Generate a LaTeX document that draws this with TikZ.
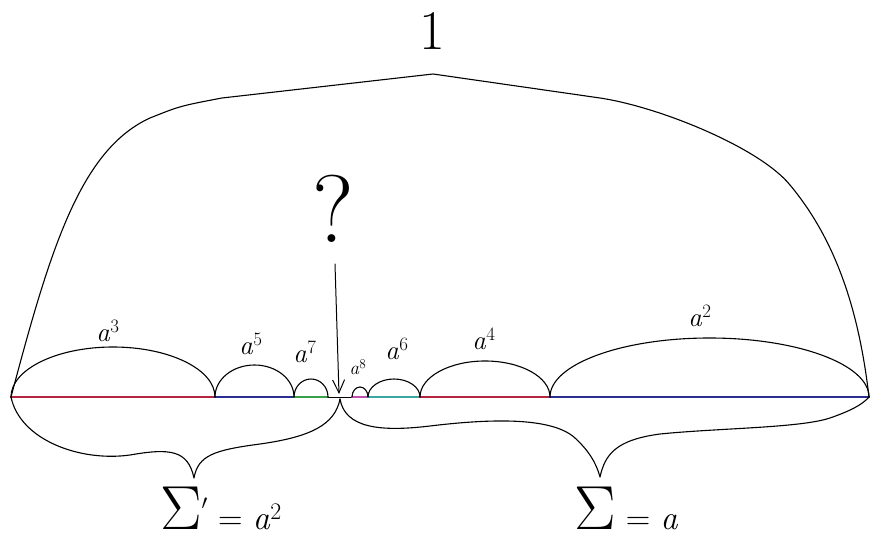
\documentclass[tikz,border=0pt]{standalone}
\usepackage{fontspec}
\usetikzlibrary{arrows.meta}
\definecolor{cred}{HTML}{B4253F}
\definecolor{cblue}{HTML}{2B2E91}
\definecolor{cgreen}{HTML}{3AA04A}
\definecolor{cmag}{HTML}{C050B0}
\definecolor{cteal}{HTML}{3AA8A0}
\newcommand{\bigsig}{\scalebox{2.5}{\fontsize{24.88}{26}\selectfont$\Sigma$}}
\begin{document}
\begin{tikzpicture}[x=1pt,y=-1pt,line cap=round,line join=round,
  seg/.style={line width=2.4pt},
  arcl/.style={line width=1.1pt,black},
  brace/.style={line width=1.1pt,black},
  lbl/.style={inner sep=0pt,font=\fontsize{27}{29}\selectfont},
  slbl/.style={inner sep=0pt,font=\fontsize{19}{21}\selectfont}]
\useasboundingbox (0,0) rectangle (871,540);
% baseline points
\coordinate (p0) at (11,397);
\coordinate (p1) at (215,397);
\coordinate (p2) at (294,397);
\coordinate (p3) at (328,397);
\coordinate (p4) at (352,397);
\coordinate (p5) at (368,397);
\coordinate (p6) at (420,397);
\coordinate (p7) at (550,397);
\coordinate (p8) at (869,397);
% coloured segments
\draw[seg,cred] (p0) -- (p1);
\draw[seg,cblue] (p1) -- (p2);
\draw[seg,cgreen] (p2) -- (p3);
\draw[line width=1pt,black] (p3) -- (p4);
\draw[seg,cmag] (p4) -- (p5);
\draw[seg,cteal] (p5) -- (p6);
\draw[seg,cred] (p6) -- (p7);
\draw[seg,cblue] (p7) -- (p8);
% arcs
\draw[arcl] (p0) arc[start angle=180,end angle=360,x radius=102,y radius=50];
\draw[arcl] (p1) arc[start angle=180,end angle=360,x radius=39.5,y radius=32];
\draw[arcl] (p2) arc[start angle=180,end angle=360,x radius=17,y radius=18];
\draw[arcl] (p4) arc[start angle=180,end angle=360,x radius=8,y radius=10];
\draw[arcl] (p5) arc[start angle=180,end angle=360,x radius=26,y radius=18];
\draw[arcl] (p6) arc[start angle=180,end angle=360,x radius=65,y radius=36];
\draw[arcl] (p7) arc[start angle=180,end angle=360,x radius=159.5,y radius=59];
% arc labels
\node[lbl] (l3) at (108,331) {\textit{a}\textsuperscript{3}};
\node[lbl] (l5) at (251,344) {\textit{a}\textsuperscript{5}};
\node[lbl] (l7) at (305,352) {\textit{a}\textsuperscript{7}};
\node[slbl] (l8) at (358,367) {\textit{a}\textsuperscript{8}};
\node[lbl] (l6) at (397,349) {\textit{a}\textsuperscript{6}};
\node[lbl] (l4) at (484,339) {\textit{a}\textsuperscript{4}};
\node[lbl] (l2) at (700,316) {\textit{a}\textsuperscript{2}};
% big arc "1"
\draw[arcl] (p0) .. controls (50,250) and (80,150) .. (150,118)
  .. controls (180,106) .. (222,98) -- (433,74) -- (600,98)
  .. controls (660,107) and (760,148) .. (790,185)
  .. controls (840,245) and (860,320) .. (p8);
\node[inner sep=0pt,font=\fontsize{56}{60}\selectfont] (one) at (432,31) {1};
% question mark and arrow
\node[inner sep=0pt,font=\fontsize{96}{100}\selectfont] (q) at (333,209) {?};
\coordinate (qt) at (339,394);
\draw[line width=1pt,-{Straight Barb[length=13pt,width=12pt]}] (335,264) -- (qt);
% braces
\coordinate (bl) at (194,478);
\coordinate (br) at (600,477);
\coordinate (m) at (340,399);
\draw[brace] (p0) .. controls (20,440) and (80,462) .. (130,455)
  .. controls (170,448) and (188,450) .. (bl)
  .. controls (198,455) and (215,450) .. (260,444)
  .. controls (310,437) and (335,425) .. (m);
\draw[brace] (m) .. controls (345,428) and (380,432) .. (430,426)
  .. controls (480,420) and (550,415) .. (575,438)
  .. controls (588,450) and (596,462) .. (br)
  .. controls (605,455) and (615,440) .. (660,434)
  .. controls (720,428) and (800,428) .. (830,418)
  .. controls (850,411) and (862,405) .. (p8);
% sums
\node[inner sep=0pt,anchor=base west] (s1) at (160,529)
  {\bigsig\raisebox{10pt}{\fontsize{24.88}{26}\selectfont$'$}\fontsize{34}{36}\selectfont{} = \textit{a}\textsuperscript{2}};
\node[inner sep=0pt,anchor=base west] (s2) at (574,529)
  {\bigsig\fontsize{34}{36}\selectfont{} = \textit{a}};
\end{tikzpicture}
\end{document}
